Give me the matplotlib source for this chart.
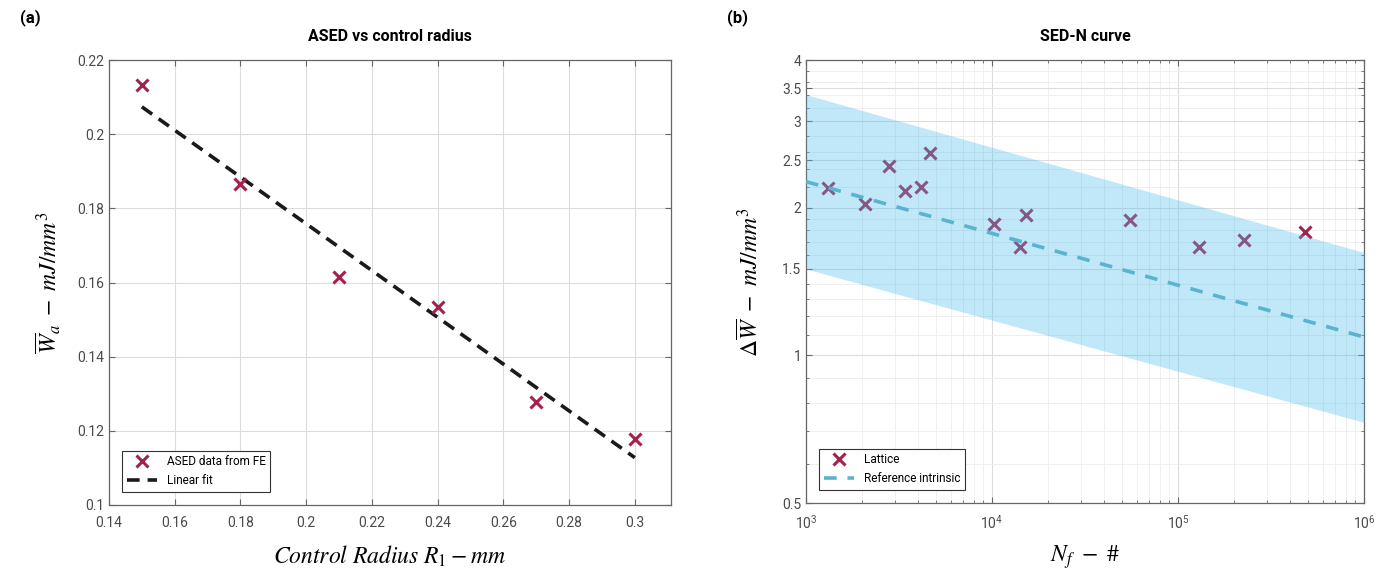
import numpy as np
import matplotlib
matplotlib.use("Agg")
import matplotlib.pyplot as plt
from matplotlib.ticker import FixedLocator, NullFormatter, LogLocator

plt.rcParams['font.family'] = ['Roboto', 'DejaVu Sans']
plt.rcParams['mathtext.fontset'] = 'stix'

# ---- Panel (a) data ----
radius = [0.15, 0.18, 0.21, 0.24, 0.27, 0.30]
ased = [0.2133, 0.1866, 0.1616, 0.1533, 0.1278, 0.1178]
a_xticks = [0.14, 0.16, 0.18, 0.20, 0.22, 0.24, 0.26, 0.28, 0.30]
a_yticks = [0.10, 0.12, 0.14, 0.16, 0.18, 0.20, 0.22]

# ---- Panel (b) data ----
cycles = [1315, 2080, 2800, 3420, 4130, 4630, 10200, 15300, 14200,
          55000, 129000, 226000, 484000]
sed = [2.19, 2.03, 2.43, 2.16, 2.20, 2.58, 1.85, 1.93, 1.66,
       1.89, 1.66, 1.72, 1.78]
ref_N = [1e3, 1e6]
ref_W = [2.26, 1.09]
band_upper = [3.40, 1.62]
band_lower = [1.50, 0.73]
b_yticks = [0.5, 1, 1.5, 2, 2.5, 3, 3.5, 4]

mark_col = '#A2224E'
tick_col = '#4a4a4a'
frame_col = '#666666'
grid_col = '#dcdcdc'

fig = plt.figure(figsize=(13.85, 5.83), dpi=100)
ax1 = fig.add_axes([109/1385, 1-505/583, (671-109)/1385, (505-60)/583])
ax2 = fig.add_axes([806/1385, 1-503/583, (1364-806)/1385, (503-60)/583])

def style(ax):
    for s in ax.spines.values():
        s.set_color(frame_col)
        s.set_linewidth(0.9)
    ax.tick_params(which='both', direction='in', colors=frame_col, labelcolor=tick_col,
                   labelsize=10, top=True, right=True, length=4)
    ax.tick_params(axis='x', which='major', pad=8)
    ax.tick_params(which='minor', length=2)
    ax.set_axisbelow(True)

# ---- (a) ----
style(ax1)
ax1.grid(True, which='major', color=grid_col, linewidth=0.8)
coef = np.polyfit(radius, ased, 1)
fit_x = np.array([radius[0], radius[-1]])
ax1.plot(fit_x, np.polyval(coef, fit_x), color='#1a1a1a', linestyle=(0, (3.5, 2.2)),
         linewidth=2.6, label='Linear fit', zorder=3)
ax1.plot(radius, ased, linestyle='none', marker='x', markersize=8, markeredgewidth=2.2,
         color=mark_col, label='ASED data from FE', zorder=4)
ax1.set_xlim(0.14, 0.311)
ax1.set_ylim(0.10, 0.22)
ax1.set_xticks(a_xticks)
ax1.set_yticks(a_yticks)
ax1.set_xticklabels(['%g' % v for v in a_xticks])
ax1.set_yticklabels(['%g' % v for v in a_yticks])
h, l = ax1.get_legend_handles_labels()
leg1 = ax1.legend([h[1], h[0]], [l[1], l[0]], loc='lower left', fontsize=8.5,
                  fancybox=False, edgecolor='#333333', framealpha=1,
                  borderaxespad=1.1, handlelength=2.6)
leg1.get_frame().set_linewidth(0.8)
ax1.set_title('ASED vs control radius', fontsize=11.5, fontweight='bold', pad=14)
ax1.set_xlabel(r'$Control\ Radius\ R_1 - mm$', fontsize=17, labelpad=10)
ax1.set_ylabel(r'$\overline{W}_a\ -\ mJ/mm^3$', fontsize=17, labelpad=10)

# ---- (b) ----
style(ax2)
ax2.set_xscale('log')
ax2.set_yscale('log')
ax2.grid(True, which='major', color=grid_col, linewidth=0.8)
ax2.grid(True, which='minor', color='#ececec', linewidth=0.6)
ax2.plot(cycles, sed, linestyle='none', marker='x', markersize=8, markeredgewidth=2.2,
         color=mark_col, label='Lattice', zorder=2)
ax2.fill_between(ref_N, band_lower, band_upper, color='#4DBEEE', alpha=0.35,
                 linewidth=0, zorder=3)
ax2.plot(ref_N, ref_W, color='#5AB4D0', linestyle=(0, (3.5, 3)), linewidth=2.6,
         label='Reference intrinsic', zorder=4)
ax2.set_xlim(1e3, 1e6)
ax2.set_ylim(0.5, 4)
ax2.yaxis.set_major_locator(FixedLocator(b_yticks))
ax2.set_yticklabels(['%g' % v for v in b_yticks])
ax2.yaxis.set_minor_locator(FixedLocator([0.6, 0.7, 0.8, 0.9, 1.1, 1.2, 1.3, 1.4, 1.6, 1.7,
                                          1.8, 1.9, 2.2, 2.4, 2.6, 2.8, 3.2, 3.4, 3.6, 3.8]))
ax2.yaxis.set_minor_formatter(NullFormatter())
ax2.xaxis.set_minor_locator(LogLocator(base=10, subs=np.arange(2, 10), numticks=20))
ax2.xaxis.set_minor_formatter(NullFormatter())
leg2 = ax2.legend(loc='lower left', fontsize=8.5, fancybox=False, edgecolor='#333333',
                  framealpha=1, borderaxespad=1.1, handlelength=2.6)
leg2.get_frame().set_linewidth(0.8)
ax2.set_title('SED-N curve', fontsize=11.5, fontweight='bold', pad=14)
ax2.set_xlabel(r'$N_f\ -\ \#$', fontsize=17, labelpad=8)
ax2.set_ylabel(r'$\Delta\overline{W}\ -\ mJ/mm^3$', fontsize=17, labelpad=14)

fig.text(30/1385, 1-18/583, '(a)', fontsize=12, fontweight='bold', ha='center', va='center')
fig.text(737/1385, 1-18/583, '(b)', fontsize=12, fontweight='bold', ha='center', va='center')

fig.savefig('out.png', dpi=100)
